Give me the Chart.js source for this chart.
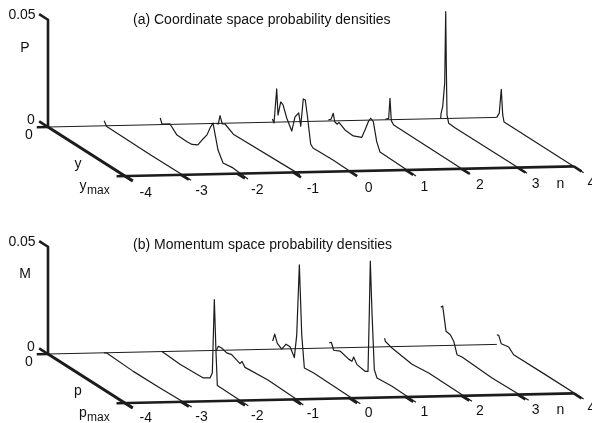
<!DOCTYPE html>
<html>
<head>
<meta charset="utf-8">
<style>
    html, body { margin: 0; padding: 0; background: #fff; }
    canvas { display: block; }
</style>
<script src="https://cdn.jsdelivr.net/npm/chart.js@4"></script>
</head>
<body>
<canvas id="myChart" width="592" height="423"></canvas>
<script>
// every curve is a list of [y or p position (0..1 = ymax), density]
const nTicks = [-4, -3, -2, -1, 0, 1, 2, 3, 4]
const curveNs = [-3, -2, -1, 0, 1, 2, 3, 4]
const densityTop = 0.05

const coordM3 = [[0, 0.0024], [0.034, 0.0004], [0.6, 0.0002], [1.13, 0.0004]]
const coordM2 = [[0, 0.0031], [0.023, 0.0008], [0.127, 0.0032], [0.218, 0.0001], [0.348, 0], [0.414, 0.0002], [0.49, 0.0017], [0.556, 0.006], [0.608, 0.0091], [0.647, 0.0132], [0.686, 0.0164], [0.751, 0.0053], [0.816, 0.0007], [0.945, 0.0014], [1.14, 0.0007]]
const coordM1 = [[0, 0], [0.026, 0.0003], [0.048, 0.0047], [0.078, 0.0015], [0.113, 0.0023], [0.221, 0], [1.044, 0.0009], [1.087, 0.0008]]
const coord0 = [[0, 0.0015], [0.021, 0.0001], [0.056, 0.0168], [0.073, 0.005], [0.108, 0.0119], [0.138, 0.0112], [0.186, 0.0062], [0.251, 0.0016], [0.294, 0.0092], [0.342, 0.0121], [0.368, 0.0066], [0.401, 0.02], [0.427, 0.0201], [0.453, 0.0137], [0.497, 0.0012], [0.527, 0], [0.787, 0.0004], [1.1, 0]]
const coord1 = [[0, 0.0005], [0.032, 0.0015], [0.062, 0.005], [0.081, 0.0015], [0.114, 0.0011], [0.136, 0.0025], [0.214, 0.0007], [0.322, 0.0004], [0.431, 0.0022], [0.474, 0.0066], [0.517, 0.0115], [0.548, 0.0138], [0.582, 0.013], [0.626, 0.0047], [0.669, 0.0008], [0.825, 0.0007], [1.136, 0.0003]]
const coord2 = [[0.01, 0.0005], [0.053, 0.0019], [0.07, 0.0116], [0.087, 0.0016], [0.118, 0.0003], [1.113, 0]]
const coord3 = [[0, 0.0001], [0.005, 0.0026], [0.026, 0.0062], [0.052, 0.0178], [0.065, 0.0514], [0.073, 0.0259], [0.082, 0.0035], [0.104, 0.0002], [0.19, 0], [1.121, 0.0001]]
const coord4 = [[0, 0], [0.032, 0.0027], [0.058, 0.0144], [0.077, 0.0029], [0.094, 0], [0.197, 0], [1.128, 0]]

const momM3 = [[0, 0], [0.034, 0.0007], [0.379, 0], [0.726, 0.0002], [1.138, 0.0007]]
const momM2 = [[0.019, 0.0006], [0.257, 0], [0.56, 0.0005], [0.647, 0.0025], [0.677, 0.0055], [0.703, 0.0403], [0.725, 0.0159], [0.742, 0.0011], [1.144, 0.0009]]
const momM1 = [[0, 0], [0.026, 0.0025], [0.07, 0.0027], [0.135, 0.0019], [0.2, 0.0026], [0.308, 0.0009], [0.334, 0.0025], [0.373, 0.0006], [0.671, 0.0015], [1.022, 0.001], [1.13, 0.0004]]
const mom0 = [[0.004, 0.0039], [0.03, 0.0077], [0.064, 0.0042], [0.121, 0.0028], [0.177, 0.0064], [0.229, 0.0064], [0.285, 0.0026], [0.316, 0.0139], [0.35, 0.0473], [0.381, 0.0154], [0.415, 0.0007], [0.537, 0.0012], [1.142, 0.0007]]
const mom1 = [[0.01, 0.0026], [0.036, 0.0035], [0.068, 0.0005], [0.153, 0.002], [0.262, 0.0008], [0.305, 0.0008], [0.327, 0.0033], [0.37, 0.0007], [0.478, 0], [0.513, 0.0008], [0.53, 0.0285], [0.543, 0.0529], [0.565, 0.0293], [0.595, 0.0035], [0.63, 0.0004], [0.825, 0.001], [1.136, 0.0007]]
const mom2 = [[0, 0.0041], [0.009, 0.0028], [0.096, 0.0016], [0.356, 0], [0.573, 0.0009], [1.135, 0.0005]]
const mom3 = [[0, 0.0179], [0.026, 0.019], [0.069, 0.0083], [0.125, 0.0079], [0.169, 0.0059], [0.212, 0.0006], [0.277, 0.001], [0.667, 0.0001], [1.143, 0.0006]]
const mom4 = [[0, 0.0045], [0.025, 0.0048], [0.058, 0.0016], [0.155, 0.0023], [0.219, 0.0002], [0.63, 0.0003], [1.128, 0.0003]]

const coordCurves = [coordM3, coordM2, coordM1, coord0, coord1, coord2, coord3, coord4]
const momCurves = [momM3, momM2, momM1, mom0, mom1, mom2, mom3, mom4]

const ink = '#1c1c1c'

// oblique 3d projection, the chart's scales just run over the page in pixels
function project(panelY, n, t, p) {
    return {
        x: 48 + 56.1 * (n + 4) + 77 * t,
        y: panelY - 1.2 * (n + 4) + 49 * t - p * 2145
    }
}

function line(panelY, points, width) {
    return {
        data: points.map(d => project(panelY, d[0], d[1], d[2])),
        showLine: true,
        pointRadius: 0,
        borderColor: ink,
        borderWidth: width,
        borderJoinStyle: 'round',
        tension: 0,
    }
}

function panelDatasets(panelY, curves) {
    let sets = []
    // back line, thin
    sets.push(line(panelY, [[-4, 0, 0], [4, 0, 0]], 1))
    // left stubs, vertical axis, its ticks, depth axis, front axis
    sets.push(line(panelY, [[-4.2, 0, 0], [-4, 0, 0]], 2.6))
    sets.push(line(panelY, [[-4, -0.115, densityTop], [-4, 0, densityTop], [-4, 0, 0]], 2.6))
    sets.push(line(panelY, [[-4, -0.115, 0], [-4, 0, 0]], 2.6))
    sets.push(line(panelY, [[-4, 0, 0], [-4, 1.1, 0]], 3))
    sets.push(line(panelY, [[-4.15, 1, 0], [4, 1, 0]], 2.6))
    for (const n of nTicks) {
        sets.push(line(panelY, [[n, 1, 0], [n, 1.1, 0]], 2.6))
    }
    curveNs.forEach((n, i) => {
        sets.push(line(panelY, curves[i].map(d => [n, d[0], d[1]]), 1.2))
    })
    return sets
}

const panelA = 127
const panelB = 354

const labelsPlugin = {
    id: 'labels',
    afterDraw(chart) {
        const ctx = chart.ctx
        ctx.save()
        ctx.fillStyle = '#111'
        ctx.textBaseline = 'middle'
        const put = (text, x, y, size, align) => {
            ctx.font = size + 'px "Liberation Sans"'
            ctx.textAlign = align || 'center'
            ctx.fillText(text, x, y)
        }
        const panel = (panelY, title, titleY, axisName, nameY, depth, depthMax, tickDrop) => {
            put('0.05', 22, panelY - 112, 14)
            put(axisName, 25, nameY, 14)
            put('0', 31, panelY - 7, 14)
            put('0', 29, panelY + 8, 14)
            put(title, 133, titleY, 14, 'left')
            put(depth, 78, panelY + 37, 14)
            put(depth, 83, panelY + 59, 14)
            put(depthMax, 87, panelY + 64, 12, 'left')
            for (const n of nTicks) {
                const p = project(panelY, n, 1.27, 0)
                put(String(n), p.x - 0.4 * (n + 4), p.y + tickDrop, 14)
            }
            const nPos = project(panelY, 3, 1.27, 0)
            put('n', nPos.x + 22, nPos.y + tickDrop, 14)
        }
        panel(panelA, '(a) Coordinate space probability densities', 20, 'P', 48, 'y', 'max', 3.5)
        panel(panelB, '(b) Momentum space probability densities', 245, 'M', 274, 'p', 'max', 2)
        ctx.restore()
    }
}

const canvas = document.getElementById('myChart')
new Chart(canvas.getContext('2d'), {
    type: 'scatter',
    data: { datasets: panelDatasets(panelA, coordCurves).concat(panelDatasets(panelB, momCurves)) },
    options: {
        responsive: false,
        animation: false,
        layout: { padding: 0 },
        plugins: { legend: { display: false }, tooltip: { enabled: false } },
        scales: {
            x: { type: 'linear', min: 0, max: 592, display: false },
            y: { type: 'linear', min: 0, max: 423, reverse: true, display: false },
        },
    },
    plugins: [labelsPlugin],
})
</script>
</body>
</html>
